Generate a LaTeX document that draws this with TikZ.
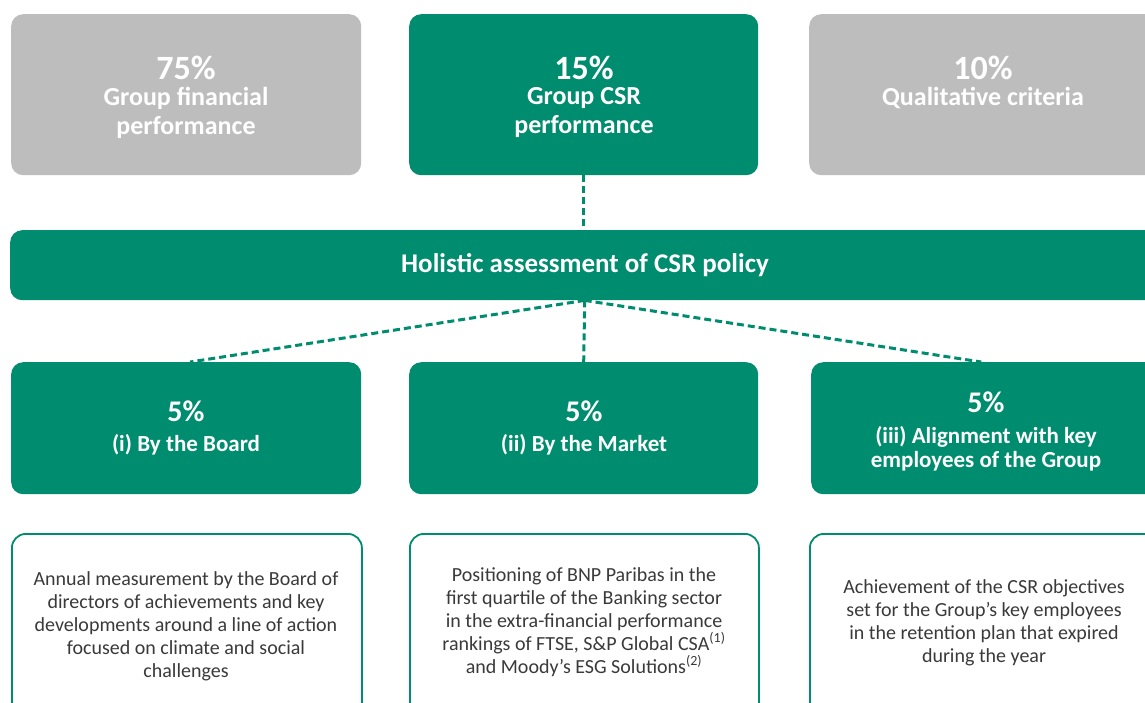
\documentclass[tikz,border=0pt]{standalone}
\usepackage{fontspec}
\setmainfont{Carlito}
\definecolor{bnpgreen}{HTML}{008C6E}
\definecolor{boxgray}{HTML}{BDBDBD}
\definecolor{txtgray}{HTML}{3A3A3A}
\begin{document}
\begin{tikzpicture}[x=1pt,y=-1pt,
  graybox/.style={fill=boxgray, draw=none, rounded corners=12pt, anchor=north west, inner sep=0pt},
  greenbox/.style={fill=bnpgreen, draw=none, rounded corners=12pt, anchor=north west, inner sep=0pt},
  outbox/.style={draw=bnpgreen, line width=1.8pt, fill=white, rounded corners=14pt, anchor=north west, inner sep=0pt},
  pct/.style={text=white, font=\fontsize{34}{34}\selectfont\bfseries, anchor=base, inner sep=0pt},
  toplbl/.style={text=white, font=\fontsize{26}{29}\selectfont\bfseries, align=center, anchor=north, inner sep=0pt},
  midpct/.style={text=white, font=\fontsize{30}{30}\selectfont\bfseries, anchor=base, inner sep=0pt},
  midlbl/.style={text=white, font=\fontsize{23}{24}\selectfont\bfseries, align=center, anchor=north, inner sep=0pt},
  desc/.style={text=txtgray, font=\fontsize{20}{23}\selectfont, align=center, anchor=center, inner sep=0pt},
  dashline/.style={draw=bnpgreen, line width=3pt, dash pattern=on 7pt off 4pt}
]
\useasboundingbox (0,0) rectangle (1145,702);
\clip (0,0) rectangle (1145,702);
\fill[white] (0,0) rectangle (1145,702);

% top row
\node[graybox, minimum width=350pt, minimum height=161pt] (tl) at (11,14) {};
\node[greenbox, minimum width=349pt, minimum height=161pt] (tm) at (409,14) {};
\node[graybox, minimum width=360pt, minimum height=161pt] (tr) at (809,14) {};

\node[pct] (tlp) at (186,79) {75\%};
\node[toplbl] (tll) at (186,87) {Group financial\\performance};
\node[pct] (tmp) at (584,79) {15\%};
\node[toplbl] (tml) at (584,87) {Group CSR\\performance};
\node[pct] (trp) at (983,79) {10\%};
\node[toplbl] (trl) at (983,87) {Qualitative criteria};

% bar
\node[greenbox, minimum width=1160pt, minimum height=70pt] (bar) at (10,230) {};
\node[text=white, font=\fontsize{27}{27}\selectfont\bfseries, anchor=base, inner sep=0pt] (barl) at (585,272) {Holistic assessment of CSR policy};

% middle row
\node[greenbox, minimum width=350pt, minimum height=132pt] (ml) at (11,362) {};
\node[greenbox, minimum width=349pt, minimum height=132pt] (mm) at (409,362) {};
\node[greenbox, minimum width=360pt, minimum height=132pt] (mr) at (811,362) {};

\node[midpct] (mlp) at (186,421) {5\%};
\node[midlbl] (mll) at (186,434) {(i) By the Board};
\node[midpct] (mmp) at (584,421) {5\%};
\node[midlbl] (mml) at (584,434) {(ii) By the Market};
\node[midpct] (mrp) at (986,412) {5\%};
\node[midlbl] (mrl) at (986,426) {(iii) Alignment with key\\employees of the Group};

% bottom row
\node[outbox, minimum width=350pt, minimum height=190pt] (bl) at (11,533) {};
\node[outbox, minimum width=349pt, minimum height=190pt] (bm) at (409,533) {};
\node[outbox, minimum width=360pt, minimum height=190pt] (br) at (809,533) {};

\node[desc] (bld) at (186,626) {Annual measurement by the Board of\\directors of achievements and key\\developments around a line of action\\focused on climate and social\\challenges};
\node[desc] (bmd) at (584,622) {Positioning of BNP Paribas in the\\first quartile of the Banking sector\\in the extra-financial performance\\rankings of FTSE, S\&P Global CSA\textsuperscript{(1)}\\and Moody's ESG Solutions\textsuperscript{(2)}};
\node[desc] (brd) at (984,623) {Achievement of the CSR objectives\\set for the Group's key employees\\in the retention plan that expired\\during the year};

% connectors
\coordinate (barb) at ([xshift=1pt]bar.south -| tm.south);
\draw[dashline] (tm.south) -- (bar.north -| tm.south);
\draw[dashline] (barb) -- (mm.north);
\draw[dashline] (barb) -- ([xshift=4pt]ml.north);
\draw[dashline] (barb) -- ([xshift=-10pt]mr.north);
\end{tikzpicture}
\end{document}
